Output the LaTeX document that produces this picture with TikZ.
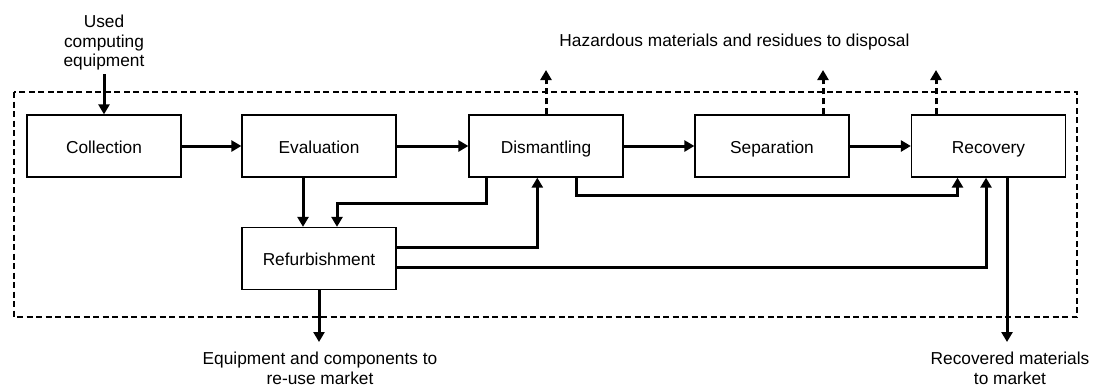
\documentclass[tikz,border=0pt]{standalone}
\usepackage{fontspec}
\setmainfont{Liberation Sans}
\usetikzlibrary{arrows.meta}

\begin{document}
\begin{tikzpicture}[x=1pt,y=-1pt,
  main/.style = {draw, line width=1.3pt, minimum width=154pt, minimum height=62pt, text height=14pt, text depth=0pt},
  flow/.style = {line width=3pt, -{Triangle[length=10pt,width=11pt]}},
  waste/.style = {flow, dash pattern=on 6pt off 4pt},
  note/.style = {align=center},
  font=\fontsize{17.3}{19.5}\selectfont,
  node distance={226pt}]
\useasboundingbox (0,0) rectangle (1097,386);
\draw[line width=2.6pt, dash pattern=on 6pt off 3.5pt] (14,92) rectangle (1077,317);
\node[main] (coll) at (104,146) {Collection};
\node[main] (eval) [right of=coll, node distance=215pt] {Evaluation};
\node[main] (dism) [right of=eval, node distance=227pt] {Dismantling};
\node[main] (sepa) [right of=dism] {Separation};
\node[main] (reco) [right of=sepa, node distance=216.5pt] {Recovery};
\node[main] (refu) [below of=eval, node distance=112.5pt] {Refurbishment};
\node[note] (used) at (104,43) {Used\\computing\\equipment};
\node (haz) at (734.5,42) {Hazardous materials and residues to disposal};
\node[note] (reuse) at (320,368.5) {Equipment and components to\\re-use market};
\node[note] (market) at (1010,368.5) {Recovered materials\\to market};
\coordinate (h1) at (546,70);
\coordinate (h2) at (823,70);
\coordinate (h3) at (936,70);
\coordinate (r1) at (319,342);
\coordinate (r2) at (1007,342);
\draw[flow] (used) -- (coll);
\draw[flow] (coll) -- (eval);
\draw[flow] (eval) -- (dism);
\draw[flow] (dism) -- (sepa);
\draw[flow] (sepa) -- (reco);
\draw[flow] ([xshift=-16pt]eval.south) -- ([xshift=-16pt]refu.north);
\draw[flow] ([xshift=-60pt]dism.south) -- ++(0,25.5) -| ([xshift=18pt]refu.north);
\draw[flow] ([yshift=11.5pt]refu.east) -| ([xshift=-8.7pt]dism.south);
\draw[flow] ([xshift=30pt]dism.south) -- ++(0,17.5) -| ([xshift=-31pt]reco.south);
\draw[flow] ([yshift=-8.5pt]refu.east) -| ([xshift=-2.5pt]reco.south);
\draw[flow] (refu) -- (r1);
\draw[flow] ([xshift=18.5pt]reco.south) -- (r2);
\draw[waste] (dism.north) -- (h1);
\draw[waste] ([xshift=51pt]sepa.north) -- (h2);
\draw[waste] ([xshift=-52.5pt]reco.north) -- (h3);
\end{tikzpicture}
\end{document}
